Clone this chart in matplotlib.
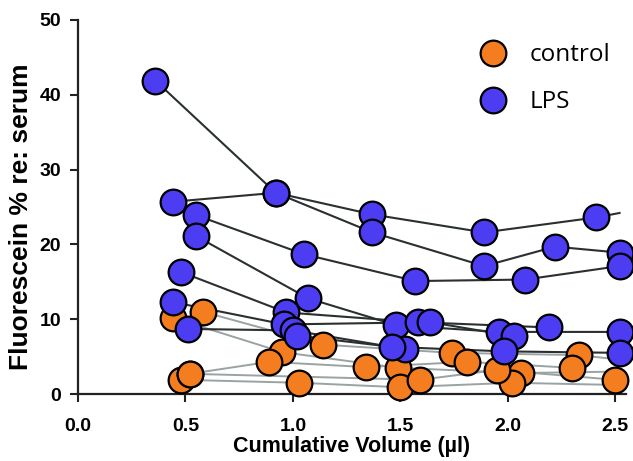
import matplotlib
matplotlib.use("Agg")
import matplotlib.pyplot as plt
from matplotlib.lines import Line2D

plt.rcParams['font.family'] = ['Liberation Sans', 'DejaVu Sans']

# LPS animals: cumulative volume (ul) and fluorescein (% of serum)
lps_x = [
    [0.36, 0.92, 1.37, 1.89, 2.41, 2.52],
    [0.44, 0.92, 1.37, 1.89, 2.22, 2.52],
    [0.55, 1.05, 1.57, 2.08, 2.52],
    [0.55, 1.07, 1.48, 1.96, 2.52],
    [0.48, 0.97, 1.58, 2.19],
    [0.44, 0.96, 1.64, 2.03],
    [0.51, 1.00, 1.52],
    [1.02, 1.46, 1.98, 2.52],
]
lps_y = [
    [41.9, 26.9, 24.0, 21.6, 23.6, 24.2],
    [25.7, 26.9, 21.6, 17.1, 19.7, 18.9],
    [23.9, 18.7, 15.1, 15.3, 17.1],
    [21.1, 12.8, 9.2, 8.3, 8.3],
    [16.3, 10.9, 9.6, 8.9],
    [12.3, 9.3, 9.6, 7.7],
    [8.7, 8.5, 6.0],
    [7.8, 6.3, 5.7, 5.5],
]
# last value of the first animal is only a line stub in the original
lps_marks = [slice(0, 5), None, None, None, None, None, None, None]

# control animals
ctl_x = [
    [0.44, 0.95, 1.49, 2.06, 2.52],
    [0.58, 1.14, 1.74, 2.33, 2.52],
    [0.48, 1.03, 1.50, 2.02, 2.52],
    [0.52, 0.89, 1.34, 1.81, 2.30],
    [0.52, 1.59, 1.95, 2.50],
]
ctl_y = [
    [10.2, 5.6, 3.5, 2.8, 3.0],
    [11.0, 6.6, 5.5, 5.2, 4.6],
    [1.9, 1.5, 0.9, 1.5, 1.2],
    [2.7, 4.3, 3.6, 4.3, 3.5],
    [2.7, 1.9, 3.2, 1.9],
]
ctl_marks = [slice(0, 4), slice(0, 4), slice(0, 4), None, None]

xticks = [0.0, 0.5, 1.0, 1.5, 2.0, 2.5]
yticks = [0, 10, 20, 30, 40, 50]

orange = '#F47D20'
blue = '#4C3CF2'

fig = plt.figure(figsize=(6.33, 4.61), dpi=100)
ax = fig.add_axes([78 / 633, 67 / 461, 548 / 633, 374 / 461])

ms = 18.5
for xs, ys, mk in zip(ctl_x, ctl_y, ctl_marks):
    ax.plot(xs, ys, color='#9aa3a3', lw=1.4, zorder=1, clip_on=False)
    ax.plot(xs, ys, ls='none', marker='o', markevery=mk, ms=ms, mfc=orange,
            mec='black', mew=1.6, zorder=3, clip_on=False)

for xs, ys, mk in zip(lps_x, lps_y, lps_marks):
    ax.plot(xs, ys, color='#2a2f30', lw=1.5, zorder=2, clip_on=False)
    ax.plot(xs, ys, ls='none', marker='o', markevery=mk, ms=ms, mfc=blue,
            mec='black', mew=1.6, zorder=4, clip_on=False)

ax.set_xlim(0, 2.55)
ax.set_ylim(0, 50)
ax.set_xticks(xticks)
ax.set_xticklabels(['%.1f' % v for v in xticks])
ax.set_yticks(yticks)

for s in ['top', 'right']:
    ax.spines[s].set_visible(False)
for s in ['left', 'bottom']:
    ax.spines[s].set_linewidth(1.6)
    ax.spines[s].set_color('#222222')

ax.tick_params(axis='both', direction='out', length=6, width=1.5, color='#222222',
               labelsize=14)
ax.tick_params(axis='x', pad=11)
ax.tick_params(axis='y', pad=6)
for lab in ax.get_xticklabels() + ax.get_yticklabels():
    lab.set_fontweight('bold')

ax.set_xlabel('Cumulative Volume (\u00b5l)', fontsize=15.5, fontweight='bold', labelpad=1)
ax.set_ylabel('Fluorescein % re: serum', fontsize=19, fontweight='bold')
ax.yaxis.set_label_coords(-0.083, 0.473)

handles = [
    Line2D([], [], ls='none', marker='o', ms=ms, mfc=orange, mec='black', mew=1.6),
    Line2D([], [], ls='none', marker='o', ms=ms, mfc=blue, mec='black', mew=1.6),
]
leg = ax.legend(handles, ['control', 'LPS'], loc='upper left',
                bbox_to_anchor=(457 / 633, 1 - 31 / 461), bbox_transform=fig.transFigure,
                frameon=False, borderpad=0, handletextpad=0.5, labelspacing=0.95,
                prop={'family': 'Open Sans', 'size': 17.5})

fig.savefig('out.png', dpi=100)
